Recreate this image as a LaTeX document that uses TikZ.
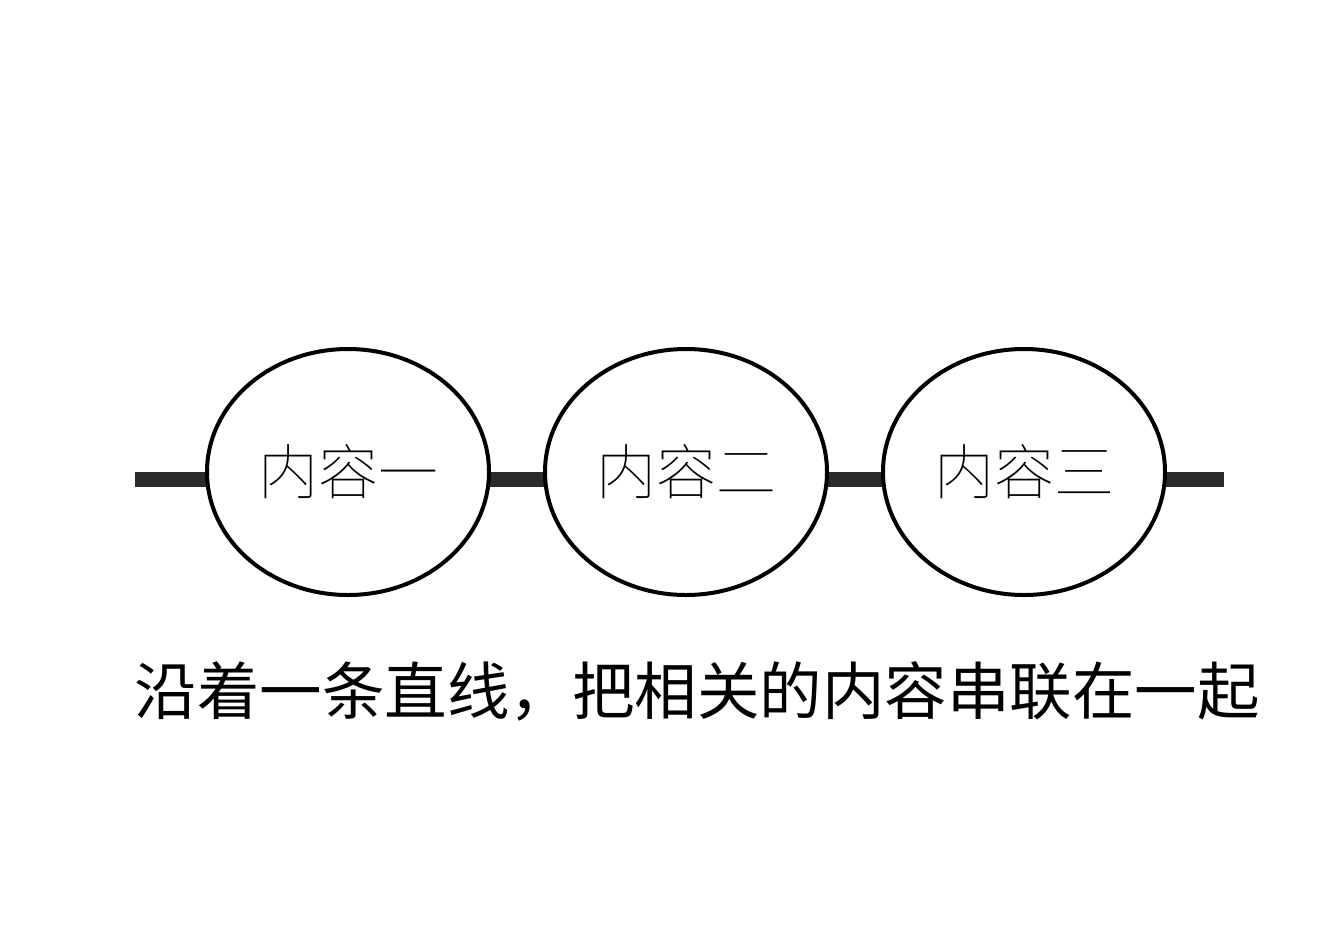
\documentclass[tikz,border=0pt]{standalone}
\usepackage{fontspec}
\usetikzlibrary{shapes.geometric,backgrounds}
\newfontfamily\cjk{Noto Sans CJK SC}
\newfontfamily\cjkthin{Noto Sans CJK SC Thin}
\definecolor{bargray}{HTML}{2B2B2B}
\tikzset{
  topic/.style={ellipse, draw=black, line width=4pt, fill=white, minimum width=282pt, minimum height=246pt, inner sep=0pt, font=\cjkthin\fontsize{60pt}{60pt}\selectfont},
  bar/.style={draw=bargray, line width=15pt},
  caption/.style={font=\cjk\fontsize{62.5pt}{62.5pt}\selectfont, inner sep=0pt}
}
\begin{document}
\begin{tikzpicture}[x=1pt,y=-1pt]
\useasboundingbox (0,0) rectangle (1344,943);
\node[topic] (e1) at (348,472) {内容一};
\node[topic] (e2) at (686,472) {内容二};
\node[topic] (e3) at (1024,472) {内容三};
\coordinate (s) at (135,479.5);
\coordinate (t) at (1224,479.5);
\begin{scope}[on background layer]
\fill[white] (0,0) rectangle (1344,943);
\draw[bar] (s) -- ([yshift=-7.5pt]e1.center);
\draw[bar] ([yshift=-7.5pt]e1.center) -- ([yshift=-7.5pt]e2.center);
\draw[bar] ([yshift=-7.5pt]e2.center) -- ([yshift=-7.5pt]e3.center);
\draw[bar] ([yshift=-7.5pt]e3.center) -- (t);
\end{scope}
\node[caption] (cap) at (697,691) {沿着一条直线，把相关的内容串联在一起};
\end{tikzpicture}
\end{document}
